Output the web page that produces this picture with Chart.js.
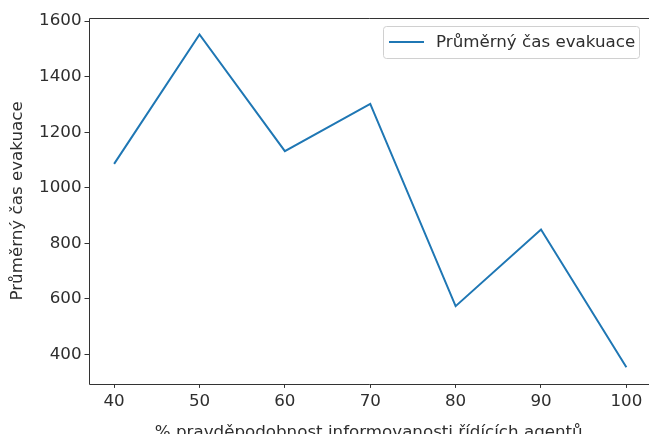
<!DOCTYPE html>
<html>
<head>
<meta charset="utf-8">
<script src="https://cdn.jsdelivr.net/npm/chart.js@4/dist/chart.umd.min.js"></script>
<style>
  html, body { margin: 0; padding: 0; background: #fff; overflow: hidden; }
</style>
</head>
<body>
<canvas id="chart" width="649" height="434"></canvas>
<script>
const probabilities = [40, 50, 60, 70, 80, 90, 100];
const avgEvacTime = [1086, 1552, 1132, 1302, 574, 850, 354];
const xTicks = [40, 50, 60, 70, 80, 90, 100];
const yTicks = [400, 600, 800, 1000, 1200, 1400, 1600];
const seriesLabel = 'Průměrný čas evakuace';
const xTitle = '% pravděpodobnost informovanosti řídících agentů';
const yTitle = 'Průměrný čas evakuace';

const font = { family: 'DejaVu Sans', size: 16.7 };
const textColor = '#2e2e2e';

// spines + legend drawn matplotlib-style (right spine is cropped off in the original)
const framePlugin = {
    id: 'frame',
    afterDatasetsDraw(chart) {
        const { ctx, chartArea: a } = chart;
        const l = Math.round(a.left) + 0.5, t = Math.round(a.top) + 0.5, b = Math.round(a.bottom) + 0.5;
        ctx.save();
        ctx.strokeStyle = '#333';
        ctx.lineWidth = 1;
        ctx.beginPath();
        ctx.moveTo(chart.width, t);
        ctx.lineTo(l, t);
        ctx.lineTo(l, b);
        ctx.lineTo(chart.width, b);
        ctx.stroke();

        // legend box
        const ds = chart.data.datasets[0];
        const bx = 383.5, by = 26.5, bw = 256, bh = 32;
        ctx.fillStyle = 'rgba(255,255,255,0.8)';
        ctx.strokeStyle = '#d0d0d0';
        ctx.beginPath();
        ctx.roundRect(bx, by, bw, bh, 3);
        ctx.fill();
        ctx.stroke();
        ctx.strokeStyle = ds.borderColor;
        ctx.lineWidth = 2;
        ctx.beginPath();
        ctx.moveTo(389, 42);
        ctx.lineTo(424, 42);
        ctx.stroke();
        ctx.fillStyle = textColor;
        ctx.font = '16.7px "DejaVu Sans"';
        ctx.textBaseline = 'middle';
        ctx.fillText(ds.label, 436, 43);
        ctx.restore();
    }
};

new Chart(document.getElementById('chart'), {
    type: 'line',
    data: {
        datasets: [{
            label: seriesLabel,
            data: probabilities.map((x, i) => ({ x: x, y: avgEvacTime[i] })),
            borderColor: '#1f77b4',
            borderWidth: 2,
            pointRadius: 0,
            tension: 0,
            fill: false
        }]
    },
    options: {
        responsive: false,
        animation: false,
        layout: { padding: { top: 18, right: 0, left: 8, bottom: -9 } },
        plugins: { legend: { display: false }, tooltip: { enabled: false } },
        scales: {
            x: {
                type: 'linear',
                min: 37,
                max: 102.65,
                afterBuildTicks: s => { s.ticks = xTicks.map(v => ({ value: v })); },
                grid: { display: true, drawOnChartArea: false, drawTicks: true, tickLength: 4, color: '#333' },
                border: { display: false },
                ticks: { color: textColor, font: font, padding: 4, maxRotation: 0, callback: v => String(v) },
                title: { display: true, text: xTitle, color: textColor, font: font, padding: { top: 7, bottom: 0 } }
            },
            y: {
                type: 'linear',
                min: 294,
                max: 1611,
                afterBuildTicks: s => { s.ticks = yTicks.map(v => ({ value: v })); },
                grid: { display: true, drawOnChartArea: false, drawTicks: true, tickLength: 4, color: '#333' },
                border: { display: false },
                ticks: { color: textColor, font: font, padding: 3, callback: v => String(v) },
                title: { display: true, text: yTitle, color: textColor, font: font, padding: { top: 0, bottom: 8 } }
            }
        }
    },
    plugins: [framePlugin]
});
</script>
</body>
</html>
